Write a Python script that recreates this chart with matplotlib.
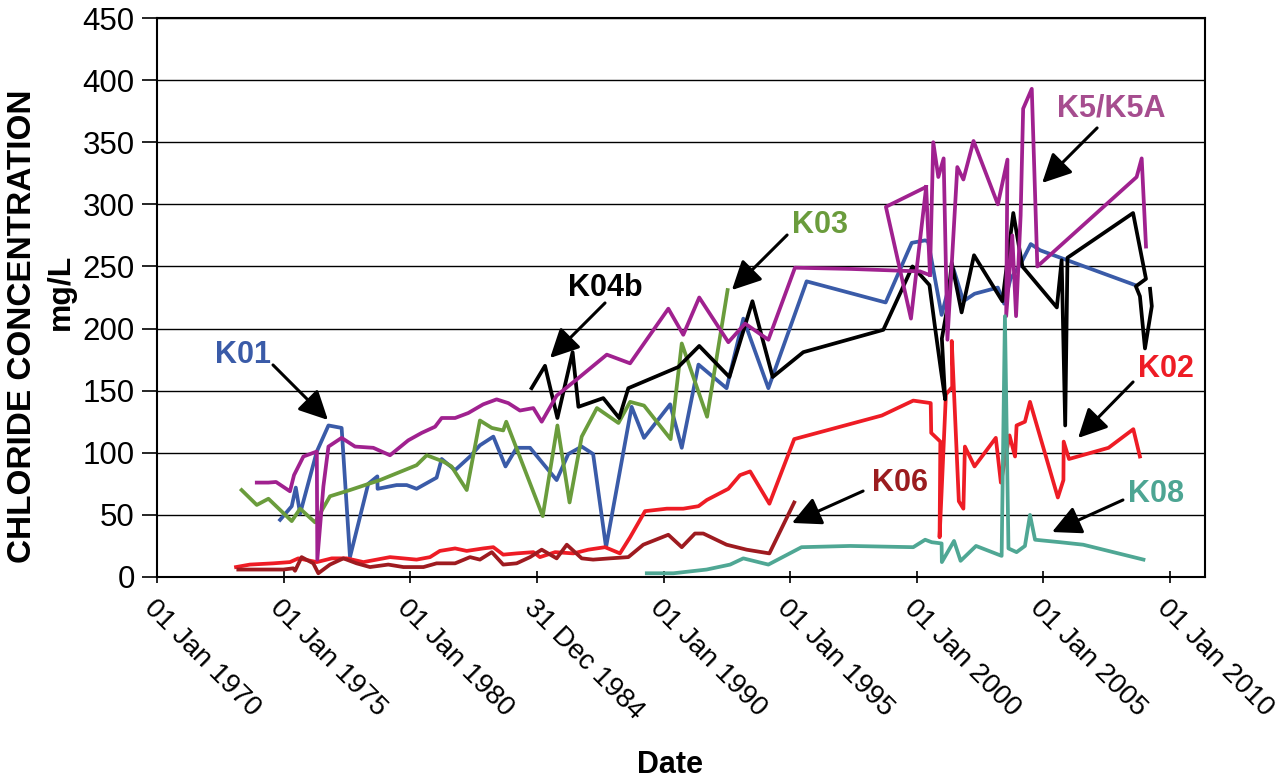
import matplotlib
matplotlib.use("Agg")
import matplotlib.pyplot as plt

plt.rcParams['font.family'] = ['Liberation Sans', 'DejaVu Sans']

# dates as decimal years, chloride in mg/L
k01_year = [1974.86, 1975.32, 1975.48, 1975.65, 1976.31, 1976.77, 1977.29, 1977.62, 1978.34, 1978.70,
            1978.71, 1979.46, 1979.86, 1980.25, 1981.04, 1981.24, 1981.77, 1982.36, 1982.75, 1983.28,
            1983.76, 1984.20, 1984.73, 1985.78, 1986.24, 1986.77, 1987.22, 1987.73, 1988.74, 1989.23,
            1990.26, 1990.72, 1991.38, 1992.49, 1993.15, 1994.14, 1995.65, 1998.77, 1999.80, 2000.33,
            2000.45, 2000.98, 2001.45, 2001.84, 2002.28, 2003.20, 2003.45, 2003.70, 2004.10, 2004.50,
            2004.87, 2008.62]
k01_val = [46, 57, 72, 51, 101, 122, 120, 16, 75, 81,
           71, 74, 74, 71, 80, 95, 86, 97, 106, 113,
           89, 104, 104, 78, 99, 105, 99, 24, 137, 112,
           139, 104, 171, 152, 208, 152, 238, 221, 269, 271,
           270, 211, 248, 222, 228, 233, 220, 240, 252, 268,
           263, 235]

k02_year = [1973.12, 1973.67, 1974.59, 1975.25, 1975.58, 1976.31, 1976.90, 1977.49, 1978.15, 1979.20,
            1980.25, 1980.78, 1981.17, 1981.77, 1982.23, 1982.88, 1983.28, 1983.67, 1984.20, 1984.86,
            1985.12, 1985.72, 1986.44, 1987.03, 1987.69, 1988.28, 1988.68, 1989.27, 1990.13, 1990.78,
            1991.38, 1991.71, 1992.56, 1993.02, 1993.42, 1994.18, 1995.16, 1998.62, 1999.86, 2000.55,
            2000.57, 2000.93, 2000.90, 2001.15, 2001.40, 2001.38, 2001.66, 2001.84, 2001.90, 2002.28,
            2003.12, 2003.32, 2003.66, 2003.88, 2003.94, 2004.27, 2004.47, 2005.57, 2005.79, 2005.80,
            2006.01, 2007.57, 2008.55, 2008.81]
k02_val = [8, 10, 11, 12, 15, 12, 15, 15, 12, 16,
           14, 16, 21, 23, 21, 23, 24, 18, 19, 20,
           16, 20, 19, 22, 24, 19, 32, 53, 55, 55,
           57, 62, 71, 82, 85, 59, 111, 130, 142, 140,
           116, 109, 32, 147, 153, 190, 61, 55, 105, 89,
           112, 76, 114, 97, 122, 125, 141, 64, 78, 109,
           95, 104, 119, 97]

k03_year = [1973.34, 1973.94, 1974.40, 1975.32, 1975.65, 1976.24, 1976.83, 1977.62, 1978.80, 1980.25,
            1980.65, 1981.30, 1981.63, 1982.23, 1982.75, 1983.22, 1983.67, 1983.79, 1985.23, 1985.81,
            1986.29, 1986.77, 1987.37, 1988.22, 1988.68, 1989.23, 1990.28, 1990.72, 1991.72, 1992.53]
k03_val = [70, 58, 63, 45, 55, 44, 65, 70, 78, 90,
           98, 93, 89, 70, 126, 120, 118, 125, 49, 122,
           60, 113, 136, 124, 141, 138, 111, 188, 129, 231]

k04b_year = [1984.79, 1985.32, 1985.81, 1986.41, 1986.64, 1987.62, 1988.25, 1988.61, 1990.58, 1991.41,
             1992.60, 1993.51, 1994.31, 1995.52, 1998.68, 1999.83, 2000.06, 2000.50, 2000.72, 2000.95,
             2001.12, 2000.99, 2001.19, 2001.38, 2001.77, 2002.26, 2003.38, 2003.81, 2004.17, 2005.53,
             2005.72, 2005.86, 2005.95, 2008.54, 2009.05, 2008.65, 2008.81, 2009.01, 2009.28, 2009.21]
k04b_val = [152, 170, 128, 181, 137, 144, 128, 152, 169, 186,
            161, 222, 161, 181, 199, 250, 245, 235, 201, 167,
            143, 192, 215, 253, 213, 259, 222, 293, 250, 217,
            255, 122, 257, 293, 240, 234, 226, 184, 218, 232]

k5_year = [1973.94, 1974.40, 1974.70, 1975.25, 1975.41, 1975.78, 1976.31, 1976.33, 1976.57, 1976.77,
           1977.29, 1977.82, 1978.54, 1979.20, 1979.92, 1980.45, 1980.98, 1981.24, 1981.77, 1982.29,
           1982.88, 1983.41, 1983.87, 1984.33, 1984.86, 1985.19, 1985.78, 1986.57, 1987.76, 1988.68,
           1990.19, 1990.78, 1991.41, 1992.56, 1993.22, 1994.14, 1995.19, 1997.40, 2000.13, 2000.52,
           2000.65, 2000.85, 2001.06, 2001.21, 2001.60, 2001.84, 2002.24, 2003.20, 2003.58, 2003.53,
           2003.77, 2003.92, 2004.10, 2004.20, 2004.54, 2004.76, 2008.68, 2008.88, 2009.05]
k5_val = [76, 76, 76.5, 69, 82, 97, 101, 14, 73, 105,
          112, 105, 104, 98, 110, 116, 121, 128, 128, 132,
          139, 143, 140, 134, 136, 125, 146, 159, 179, 172,
          216, 195, 225, 189, 204, 191, 249, 248, 246, 243,
          350, 322, 337, 191, 330, 320, 351, 300, 336, 210,
          275, 210, 291, 377, 393, 250, 322, 337, 266]

k5a_year = [2000.52, 2000.37, 1998.78, 1999.77, 2000.37]
k5a_val = [243, 314, 298, 208, 314]

k06_year = [1973.21, 1974.07, 1974.99, 1975.38, 1975.45, 1975.71, 1976.17, 1976.37, 1976.83, 1977.36,
            1977.88, 1978.41, 1979.13, 1979.73, 1980.52, 1981.04, 1981.77, 1982.36, 1982.75, 1983.22,
            1983.67, 1984.20, 1984.73, 1985.19, 1985.78, 1986.18, 1986.77, 1987.22, 1987.88, 1988.61,
            1989.20, 1990.19, 1990.72, 1991.24, 1991.57, 1992.49, 1993.28, 1994.18, 1995.16]
k06_val = [6, 6, 6, 7, 5, 16, 11, 3, 10, 15,
           11, 8, 10, 8, 8, 11, 11, 16, 14, 20,
           10, 11, 16, 22, 15, 26, 15, 14, 15, 16,
           26, 34, 24, 35, 35, 26, 22, 19, 60]

k08_year = [1989.34, 1990.39, 1991.70, 1992.63, 1993.15, 1994.14, 1995.45, 1997.37, 1999.86, 2000.33,
            2000.59, 2000.98, 2000.99, 2001.47, 2001.73, 2002.34, 2003.35, 2003.48, 2003.62, 2003.94,
            2004.27, 2004.47, 2004.67, 2005.66, 2006.57, 2008.95]
k08_val = [3, 3, 6, 10, 15, 10, 24, 25, 24, 30,
           28, 27, 12, 29, 13, 25, 17, 210, 23, 20,
           25, 50, 30, 28, 26, 14]

tick_years = [1970, 1975, 1980, 1984.997, 1990, 1995, 2000, 2005, 2010]
tick_labels = ['01 Jan 1970', '01 Jan 1975', '01 Jan 1980', '31 Dec 1984', '01 Jan 1990',
               '01 Jan 1995', '01 Jan 2000', '01 Jan 2005', '01 Jan 2010']

c_k01 = '#3A5BA8'
c_k02 = '#EE1C25'
c_k03 = '#6A9C3C'
c_k04 = '#000000'
c_k5 = '#A0218F'
c_k06 = '#9E1B20'
c_k08 = '#4FA794'

fig = plt.figure(figsize=(12.82, 7.8), dpi=100)
ax = fig.add_axes([157/1282, 1 - 577/780, 1048/1282, 559/780])

lw = 2.7
ax.plot(k01_year, k01_val, color=c_k01, lw=lw)
ax.plot(k02_year, k02_val, color=c_k02, lw=lw)
ax.plot(k03_year, k03_val, color=c_k03, lw=lw)
ax.plot(k04b_year, k04b_val, color=c_k04, lw=lw)
ax.plot(k5_year, k5_val, color=c_k5, lw=lw)
ax.plot(k5a_year, k5a_val, color=c_k5, lw=lw)
ax.plot(k06_year, k06_val, color=c_k06, lw=lw)
ax.plot(k08_year, k08_val, color=c_k08, lw=lw)

ax.set_xlim(1970, 2011.38)
ax.set_ylim(0, 450)
ax.set_yticks(range(0, 451, 50))
ax.yaxis.grid(True, color='black', lw=1.0)
ax.set_axisbelow(True)
for s in ax.spines.values():
    s.set_linewidth(1.5)

ax.tick_params(axis='y', direction='out', length=11, width=1.2, labelsize=22.5, pad=5)
ax.tick_params(axis='x', direction='inout', length=8, width=1.2, pad=9)
ax.set_xticks(tick_years)
ax.set_xticklabels(tick_labels, rotation=-45, ha='left', va='top',
                   rotation_mode='anchor', fontsize=20)

fig.text(23/1282, 1 - 326/780, 'CHLORIDE CONCENTRATION', rotation=90, ha='center', va='center',
         fontsize=24, fontweight='bold')
fig.text(61/1282, 1 - 292/780, 'mg/L', rotation=90, ha='center', va='center',
         fontsize=23, fontweight='bold')
fig.text(670/1282, 1 - 765/780, 'Date', ha='center', va='center', fontsize=22, fontweight='bold')

# labels and arrows
arrow = dict(arrowstyle='-|>', color='black', lw=2.2, mutation_scale=44, shrinkA=0, shrinkB=0)
notes = [
    ('K01', c_k01, (1972.29, 178.7), (1974.58, 170.7), (1976.75, 126.4)),
    ('K04b', 'black', (1986.23, 233.0), (1987.69, 220.6), (1985.52, 176.3)),
    ('K03', c_k03, (1995.07, 283.4), (1994.88, 275.3), (1992.70, 231.0)),
    ('K06', '#9B1C1F', (1998.23, 75.3), (1997.88, 69.2), (1995.07, 43.5)),
    ('K08', '#4DA593', (2008.34, 67.2), (2008.14, 62.0), (2005.34, 36.2)),
    ('K02', c_k02, (2008.74, 167.8), (2008.54, 157.0), (2006.37, 111.9)),
    ('K5/K5A', '#A64D8F', (2005.54, 377.2), (2007.12, 361.5), (2004.95, 317.2)),
]
for txt, col, pos, tail, tip in notes:
    ax.text(pos[0], pos[1], txt, color=col, fontsize=22, fontweight='bold', ha='left', va='center')
    ax.annotate('', xy=tip, xytext=tail, arrowprops=arrow)

fig.savefig('out.png', dpi=100)
